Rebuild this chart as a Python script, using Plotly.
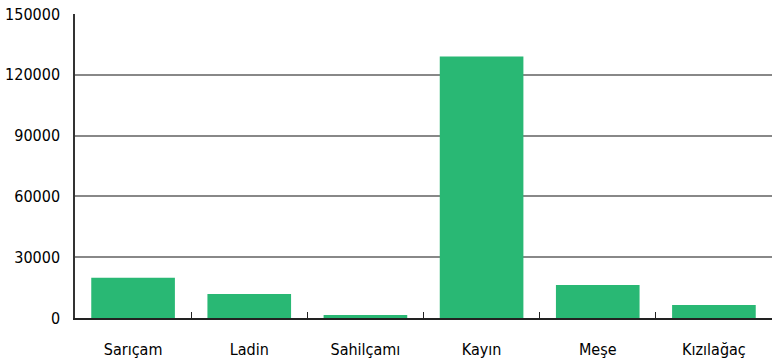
import plotly.graph_objects as go

categories = ["Sarıçam", "Ladin", "Sahilçamı", "Kayın", "Meşe", "Kızılağaç"]
values = [19800, 11800, 1500, 129000, 16300, 6400]
y_ticks = [0, 30000, 60000, 90000, 120000, 150000]

fig = go.Figure(go.Bar(x=categories, y=values, marker_color="#29b874", marker_line_width=0))

font_family = "DejaVu Sans Condensed"
fig.update_layout(
    width=780, height=361,
    margin=dict(l=75, r=8, t=14, b=43),
    plot_bgcolor="white", paper_bgcolor="white",
    bargap=0.28,
    showlegend=False,
    font=dict(family=font_family, size=16, color="#000"),
)
fig.update_xaxes(
    automargin=False,
    showline=True, linecolor="#222", linewidth=1.5,
    ticks="inside", tickson="boundaries", ticklen=6, tickcolor="#222",
    showgrid=False, ticklabelstandoff=16,
    tickfont=dict(family=font_family, size=16, color="#000"),
)
fig.update_yaxes(
    automargin=False,
    range=[0, 150000], tickvals=y_ticks, ticktext=[str(v) for v in y_ticks],
    showline=True, linecolor="#333", linewidth=1.5,
    showgrid=True, gridcolor="#888", gridwidth=1.5,
    zeroline=False, ticks="", ticklabelstandoff=10,
    tickfont=dict(family=font_family, size=16, color="#000"),
)
fig.write_html(
    "out.html",
    config={"displayModeBar": False},
    post_script="document.body.style.margin='0';document.body.style.overflow='hidden';",
)
